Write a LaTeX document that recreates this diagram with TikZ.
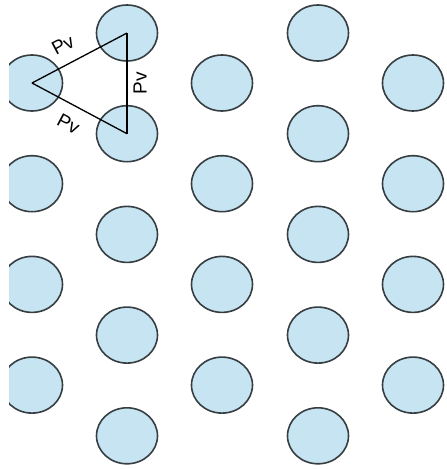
\documentclass[tikz,border=0pt]{standalone}
\usepackage{fontspec}
\setmainfont{Liberation Sans}
\usetikzlibrary{shapes.geometric, positioning}

\definecolor{holefill}{RGB}{198,228,242}
\definecolor{holeedge}{RGB}{55,62,66}

\begin{document}
\begin{tikzpicture}[x=1pt, y=-1pt, auto, node distance=100.7pt, semithick]

  \tikzstyle{hole}=[ellipse, draw=holeedge, fill=holefill, line width=1.6pt, minimum width=61pt, minimum height=56pt, inner sep=0pt]
  \tikzstyle{pitch}=[sloped, font=\fontsize{19pt}{19pt}\selectfont, inner sep=6pt]

  \useasboundingbox (0,0) rectangle (447,469);
  \clip (9,0) rectangle (447,469);

  \node[hole] (A1) at (32,83) {};
  \node[hole] (A2) [below of=A1] {};
  \node[hole] (A3) [below of=A2] {};
  \node[hole] (A4) [below of=A3] {};

  \node[hole] (B1) at (127,33) {};
  \node[hole] (B2) [below of=B1] {};
  \node[hole] (B3) [below of=B2] {};
  \node[hole] (B4) [below of=B3] {};
  \node[hole] (B5) [below of=B4] {};

  \node[hole] (C1) at (222,83) {};
  \node[hole] (C2) [below of=C1] {};
  \node[hole] (C3) [below of=C2] {};
  \node[hole] (C4) [below of=C3] {};

  \node[hole] (D1) at (318,33) {};
  \node[hole] (D2) [below of=D1] {};
  \node[hole] (D3) [below of=D2] {};
  \node[hole] (D4) [below of=D3] {};
  \node[hole] (D5) [below of=D4] {};

  \node[hole] (E1) at (413,83) {};
  \node[hole] (E2) [below of=E1] {};
  \node[hole] (E3) [below of=E2] {};
  \node[hole] (E4) [below of=E3] {};

  % pitch triangle
  \draw[line width=1.3pt] (A1.center) -- node[pitch, above, pos=0.42, inner sep=12pt] {Pv} (B1.center);
  \draw[line width=1.3pt] (B2.center) -- node[pitch, below] {Pv} (B1.center);
  \draw[line width=1.3pt] (A1.center) -- node[pitch, below, pos=0.48, inner sep=12pt] {Pv} (B2.center);

\end{tikzpicture}
\end{document}
